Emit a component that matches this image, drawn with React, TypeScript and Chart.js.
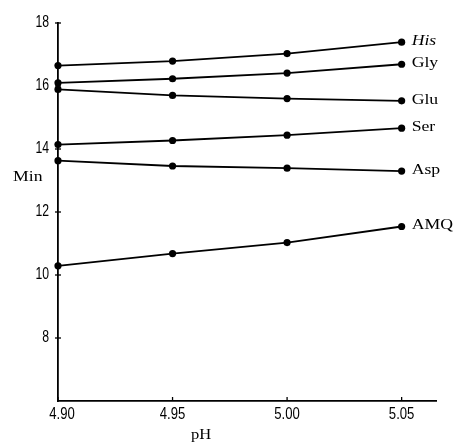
import React, { useEffect, useRef } from "react";
import { Chart, registerables } from "chart.js";

Chart.register(...registerables);

const phValues = [4.9, 4.95, 5.0, 5.05];
const xTicks = [4.9, 4.95, 5.0, 5.05];
const yTicks = [8, 10, 12, 14, 16, 18];

const seriesNames = ["His", "Gly", "Glu", "Ser", "Asp", "AMQ"];
const hisValues = [16.65, 16.79, 17.03, 17.39];
const glyValues = [16.1, 16.23, 16.41, 16.69];
const gluValues = [15.89, 15.7, 15.6, 15.53];
const serValues = [14.14, 14.27, 14.44, 14.66];
const aspValues = [13.63, 13.46, 13.39, 13.3];
const amqValues = [10.29, 10.68, 11.03, 11.54];

const allValues = [hisValues, glyValues, gluValues, serValues, aspValues, amqValues];

function stretchedText(ctx: CanvasRenderingContext2D, text: string, x: number, y: number, sx: number, align: string) {
  ctx.save();
  ctx.translate(x, y);
  ctx.scale(sx, 1);
  ctx.textAlign = align as CanvasTextAlign;
  ctx.fillText(text, 0, 0);
  ctx.restore();
}

export default function App() {
  const ref = useRef<HTMLCanvasElement | null>(null);

  useEffect(() => {
    if (!ref.current) return;
    const datasets = allValues.map((vals, i) => ({
      label: seriesNames[i],
      data: vals.map((v, j) => ({ x: phValues[j], y: v })),
      borderColor: "#000",
      backgroundColor: "#000",
      borderWidth: 1.8,
      pointRadius: 3.6,
      pointBackgroundColor: "#000",
      pointBorderColor: "#000",
      pointBorderWidth: 0,
      tension: 0,
      clip: false as any,
    }));

    const labelPlugin = {
      id: "labels",
      afterDraw(chart: any) {
        const ctx = chart.ctx as CanvasRenderingContext2D;
        const xs = chart.scales.x;
        const ys = chart.scales.y;
        const area = chart.chartArea;
        ctx.save();
        ctx.fillStyle = "#000";
        ctx.strokeStyle = "#000";
        ctx.lineWidth = 1.3;
        // tick marks
        yTicks.forEach((v) => {
          const py = ys.getPixelForValue(v);
          ctx.beginPath();
          ctx.moveTo(area.left - 3, py);
          ctx.lineTo(area.left + 3, py);
          ctx.stroke();
        });
        xTicks.forEach((v) => {
          const px = xs.getPixelForValue(v);
          ctx.beginPath();
          ctx.moveTo(px, area.bottom);
          ctx.lineTo(px, area.bottom - 4);
          ctx.stroke();
        });
        // tick labels (condensed)
        ctx.textBaseline = "middle";
        ctx.font = "17px 'Liberation Sans'";
        yTicks.forEach((v) => {
          stretchedText(ctx, String(v), area.left - 9, ys.getPixelForValue(v) - 1, 0.72, "right");
        });
        ctx.font = "16px 'Liberation Sans'";
        xTicks.forEach((v) => {
          stretchedText(ctx, v.toFixed(2), xs.getPixelForValue(v) + (v === 4.9 ? 4 : 0), area.bottom + 14, 0.82, "center");
        });
        // series labels
        chart.data.datasets.forEach((ds: any, i: number) => {
          const meta = chart.getDatasetMeta(i);
          const last = meta.data[meta.data.length - 1];
          ctx.font = (i === 0 ? "italic " : "") + "15px 'Liberation Serif'";
          stretchedText(ctx, ds.label, last.x + 10, last.y - 1, 1.18, "left");
        });
        ctx.font = "15px 'Liberation Serif'";
        stretchedText(ctx, "Min", 13, 177, 1.18, "left");
        stretchedText(ctx, "pH", 201, 435, 1.1, "center");
        ctx.restore();
      },
    };

    const chart = new Chart(ref.current, {
      type: "line",
      data: { datasets },
      options: {
        animation: false,
        responsive: false,
        maintainAspectRatio: false,
        layout: { padding: { top: 23, right: 22, left: 0, bottom: 0 } },
        plugins: { legend: { display: false }, tooltip: { enabled: false } },
        scales: {
          x: {
            type: "linear",
            min: 4.9,
            max: 5.065,
            afterBuildTicks: (s: any) => {
              s.ticks = xTicks.map((v) => ({ value: v }));
            },
            afterFit: (s: any) => {
              s.height = 42;
            },
            ticks: { display: false },
            grid: { display: false },
            border: { display: true, color: "#000", width: 1.8 },
          },
          y: {
            type: "linear",
            min: 6,
            max: 18,
            afterBuildTicks: (s: any) => {
              s.ticks = yTicks.map((v) => ({ value: v }));
            },
            afterFit: (s: any) => {
              s.width = 58;
            },
            ticks: { display: false },
            grid: { display: false },
            border: { display: true, color: "#000", width: 1.8 },
          },
        },
      },
      plugins: [labelPlugin],
    });
    return () => chart.destroy();
  }, []);

  return (
    <div style={{ position: "fixed", left: 0, top: 0, width: 458, height: 443, background: "#fff" }}>
      <canvas ref={ref} width={458} height={443} style={{ width: 458, height: 443 }} />
    </div>
  );
}
